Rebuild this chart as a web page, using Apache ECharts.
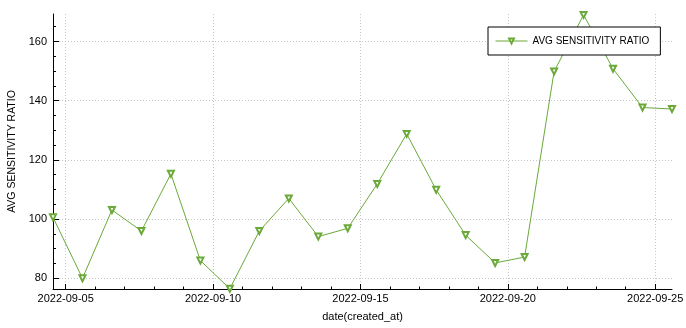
<!DOCTYPE html>
<html>
<head>
<meta charset="utf-8">
<script src="https://cdn.jsdelivr.net/npm/echarts@6/dist/echarts.min.js"></script>
<style>
html,body{margin:0;padding:0;background:#fff;}
#c{width:686px;height:328px;}
</style>
</head>
<body>
<div id="c"></div>
<script>
// ---- data ----
const dates = ['2022-09-04','2022-09-05','2022-09-06','2022-09-07','2022-09-08','2022-09-09','2022-09-10',
  '2022-09-11','2022-09-12','2022-09-13','2022-09-14','2022-09-15','2022-09-16','2022-09-17','2022-09-18',
  '2022-09-19','2022-09-20','2022-09-21','2022-09-22','2022-09-23','2022-09-24','2022-09-25'];
const timeOfDay = '13:40:00';
const values = [100.6, 80.0, 103.1, 96.0, 115.3, 86.0, 76.5, 96.0, 107.0, 94.1, 96.9, 111.9, 128.8, 109.9,
  94.6, 85.2, 87.2, 149.9, 169.0, 150.8, 137.7, 137.2];
const xTickDates = ['2022-09-05','2022-09-10','2022-09-15','2022-09-20','2022-09-25'];
const xMinorDates = ['2022-09-05','2022-09-06','2022-09-07','2022-09-08','2022-09-09','2022-09-10','2022-09-11',
  '2022-09-12','2022-09-13','2022-09-14','2022-09-15','2022-09-16','2022-09-17','2022-09-18','2022-09-19',
  '2022-09-20','2022-09-21','2022-09-22','2022-09-23','2022-09-24','2022-09-25'];
const yTicks = [80, 100, 120, 140, 160];
const yMinorTicks = [80, 85, 90, 95, 100, 105, 110, 115, 120, 125, 130, 135, 140, 145, 150, 155, 160, 165];
const seriesName = 'AVG SENSITIVITY RATIO';
const xName = 'date(created_at)';
const yName = 'AVG SENSITIVITY RATIO';

// ---- build ----
const ts = s => +new Date(s + 'T00:00:00');
const pts = dates.map((d, i) => [+new Date(d + 'T' + timeOfDay), values[i]]);
const xMin = pts[0][0], xMax = pts[pts.length - 1][0];
const yMin = Math.min(...values) - 0.1, yMax = Math.max(...values) + 0.3;
const FONT = 'Liberation Sans';
const green = '#6aa93a';
const gridLine = { show: true, lineStyle: { color: '#c4c4c4', type: [1, 2], width: 1 } };
const pad = n => (n < 10 ? '0' : '') + n;
const fmtDate = v => { const d = new Date(v); return d.getFullYear() + '-' + pad(d.getMonth() + 1) + '-' + pad(d.getDate()); };

const chart = echarts.init(document.getElementById('c'), null, { renderer: 'canvas' });
chart.setOption({
  animation: false,
  backgroundColor: '#fff',
  grid: { left: 53, right: 14, top: 14, bottom: 39, containLabel: false, outerBoundsMode: 'none' },
  legend: {
    show: true,
    left: 488, top: 27,
    padding: [9, 11, 9, 7],
    borderColor: '#000', borderWidth: 1, backgroundColor: '#fff',
    itemWidth: 32, itemHeight: 6, itemGap: 8,
    lineStyle: { width: 1 },
    textStyle: { fontFamily: FONT, fontSize: 10, color: '#000' },
    data: [{ name: seriesName }]
  },
  xAxis: [{
    type: 'value', min: xMin, max: xMax,
    name: xName, nameLocation: 'middle', nameGap: 22,
    nameTextStyle: { fontFamily: FONT, fontSize: 11, color: '#000' },
    axisLine: { show: true, lineStyle: { color: '#000', width: 1 } },
    axisTick: { show: true, inside: true, length: 5, lineStyle: { color: '#000' }, customValues: xTickDates.map(ts) },
    axisLabel: { show: true, margin: 4, fontFamily: FONT, fontSize: 11, color: '#000', customValues: xTickDates.map(ts), formatter: v => fmtDate(v), hideOverlap: false },
    splitLine: gridLine
  }, {
    type: 'value', min: xMin, max: xMax, position: 'bottom', gridIndex: 0,
    axisLine: { show: false },
    axisTick: { show: true, inside: true, length: 2.5, lineStyle: { color: '#000' }, customValues: xMinorDates.map(ts) },
    axisLabel: { show: false },
    splitLine: { show: false }
  }],
  yAxis: [{
    type: 'value', min: yMin, max: yMax,
    name: yName, nameLocation: 'middle', nameGap: 35, nameRotate: 90,
    nameTextStyle: { fontFamily: FONT, fontSize: 10.5, color: '#000' },
    axisLine: { show: true, lineStyle: { color: '#000', width: 1 } },
    axisTick: { show: true, inside: true, length: 6, lineStyle: { color: '#000' }, customValues: yTicks },
    axisLabel: { show: true, margin: 6, fontFamily: FONT, fontSize: 11, color: '#000', customValues: yTicks },
    splitLine: gridLine
  }, {
    type: 'value', min: yMin, max: yMax, position: 'left', gridIndex: 0,
    axisLine: { show: false },
    axisTick: { show: true, inside: true, length: 3, lineStyle: { color: '#000' }, customValues: yMinorTicks },
    axisLabel: { show: false },
    splitLine: { show: false }
  }],
  series: [{
    name: seriesName,
    type: 'line',
    xAxisIndex: 0, yAxisIndex: 0,
    data: pts,
    symbol: 'emptyTriangle',
    symbolRotate: 180,
    symbolSize: 6,
    clip: false,
    lineStyle: { color: green, width: 1 },
    itemStyle: { color: green, borderColor: green, borderWidth: 1 }
  }]
});
</script>
</body>
</html>
